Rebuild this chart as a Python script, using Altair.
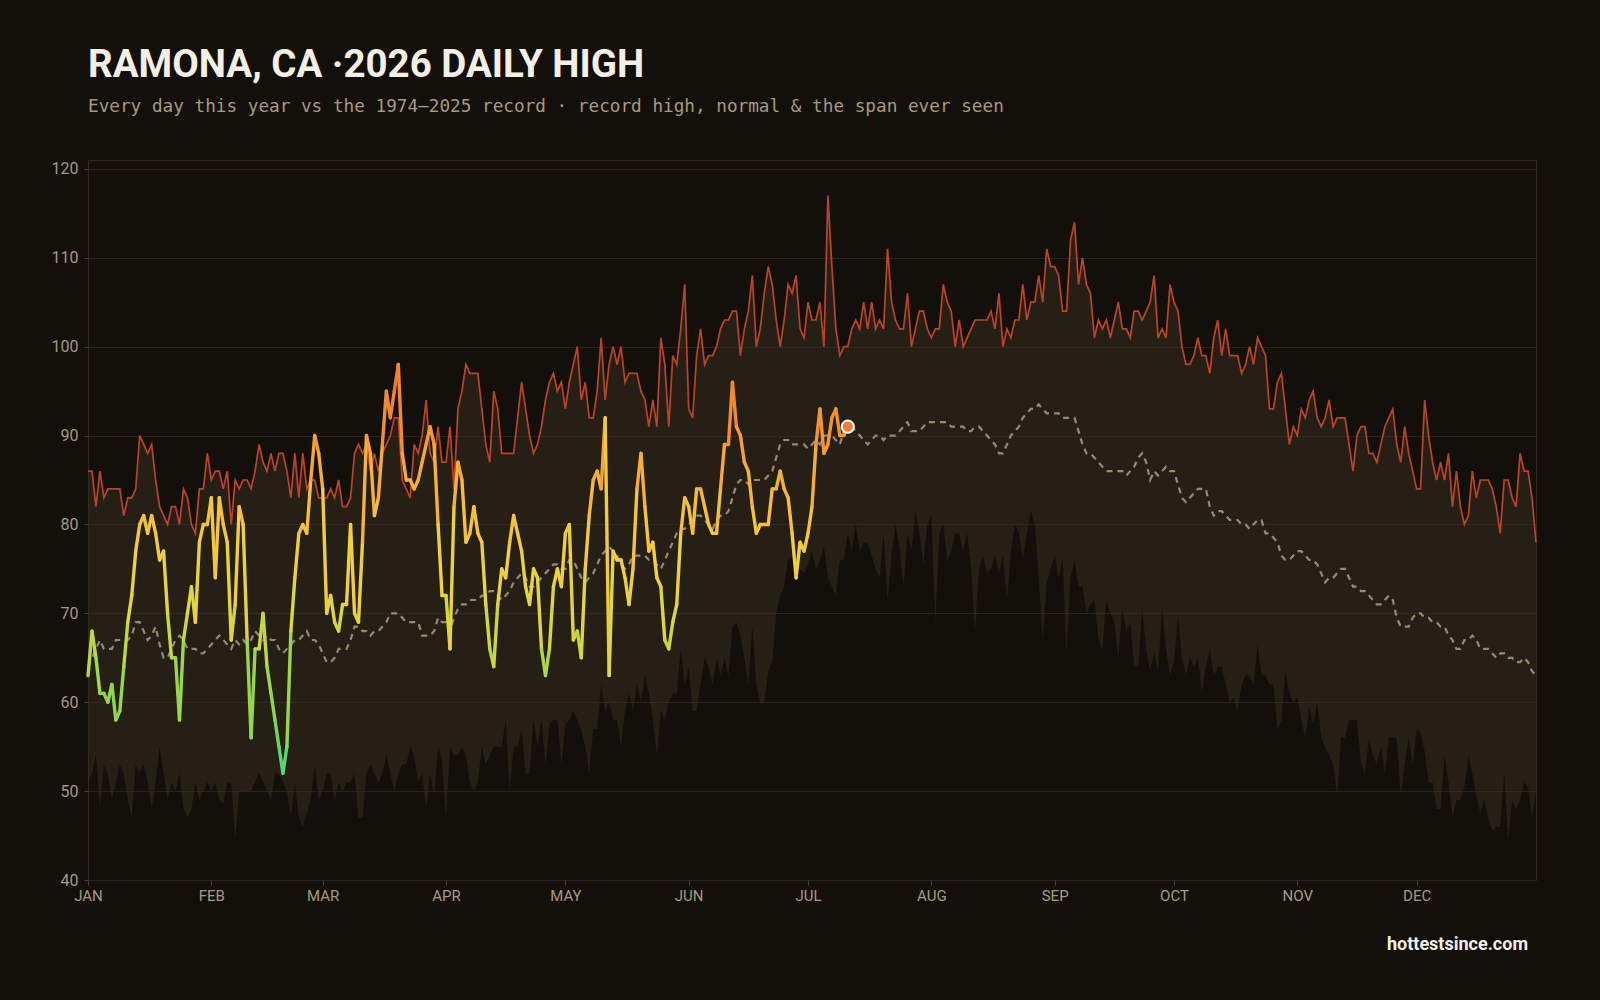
import altair as alt
import pandas as pd

TITLE = "RAMONA, CA ·2026 DAILY HIGH"
SUBTITLE = "Every day this year vs the 1974–2025 record · record high, normal & the span ever seen"
FOOTER = "hottestsince.com"

MONTHS = ["JAN", "FEB", "MAR", "APR", "MAY", "JUN", "JUL", "AUG", "SEP", "OCT", "NOV", "DEC"]
MONTH_STARTS = [0, 31, 59, 90, 120, 151, 181, 212, 243, 273, 304, 334]
Y_TICKS = [40, 50, 60, 70, 80, 90, 100, 110, 120]

# 2026 daily high, Jan 1 .. Jul 11
ACTUAL_2026 = [
    63, 68, 65, 61, 61, 60, 62, 58, 59, 64, 69, 72, 77, 80, 81, 79, 81, 79, 76, 77,
    70, 65, 65, 58, 67, 70, 73, 69, 78, 80, 80, 83, 74, 83, 80, 78, 67, 71, 82, 80,
    67, 56, 66, 66, 70, 64, 61, 58, 55, 52, 55, 68, 74, 79, 80, 79, 85, 90, 88, 84,
    70, 72, 69, 68, 71, 71, 80, 70, 69, 78, 90, 88, 81, 83, 89, 95, 92, 95, 98, 88,
    85, 85, 84, 85, 87, 89, 91, 89, 80, 72, 72, 66, 82, 87, 85, 78, 79, 82, 79, 78,
    71, 66, 64, 71, 75, 74, 78, 81, 79, 77, 73, 71, 75, 74, 66, 63, 66, 73, 75, 73,
    79, 80, 67, 68, 65, 75, 81, 85, 86, 84, 92, 63, 77, 76, 76, 74, 71, 75, 84, 88,
    82, 77, 78, 74, 73, 67, 66, 69, 71, 79, 83, 82, 79, 84, 84, 82, 80, 79, 79, 84,
    89, 89, 96, 91, 90, 87, 86, 82, 79, 80, 80, 80, 84, 84, 86, 84, 83, 79, 74, 78,
    77, 79, 82, 89, 93, 88, 89, 92, 93, 90, 90, 91,
]

RECORD_HIGH = [
    86, 86, 82, 86, 83, 84, 84, 84, 84, 81, 83, 83, 84, 90, 89, 88, 89, 85, 82, 81,
    80, 82, 82, 80, 84, 83, 80, 79, 84, 84, 88, 85, 86, 86, 84, 86, 80, 85, 84, 85,
    85, 84, 86, 89, 87, 86, 88, 86, 88, 88, 86, 83, 88, 83, 88, 84, 85, 85, 83, 83,
    83, 84, 83, 85, 82, 82, 83, 88, 89, 88, 89, 86, 88, 86, 88, 89, 90, 92, 92, 85,
    84, 83, 89, 88, 90, 94, 88, 87, 91, 87, 87, 91, 84, 93, 95, 98, 97, 97, 97, 93,
    89, 87, 95, 93, 88, 88, 88, 88, 92, 96, 93, 90, 88, 89, 91, 94, 96, 97, 95, 96,
    93, 96, 98, 100, 94, 96, 92, 92, 95, 101, 94, 98, 100, 98, 100, 96, 97, 97, 97, 95,
    94, 91, 94, 91, 101, 98, 91, 99, 98, 102, 107, 93, 92, 99, 102, 98, 99, 99, 100, 102,
    103, 103, 104, 104, 99, 102, 104, 108, 100, 102, 106, 109, 107, 103, 100, 103, 107, 106, 108, 102,
    101, 105, 103, 103, 105, 100, 117, 109, 102, 99, 100, 100, 102, 103, 102, 105, 102, 105, 102, 103,
    102, 111, 105, 103, 102, 102, 106, 100, 102, 104, 104, 102, 101, 102, 102, 107, 105, 104, 100, 103,
    100, 101, 102, 103, 103, 103, 103, 104, 102, 106, 100, 102, 101, 103, 103, 107, 103, 105, 105, 108,
    105, 111, 109, 109, 108, 104, 104, 112, 114, 107, 110, 107, 106, 101, 103, 102, 103, 101, 103, 105,
    102, 102, 101, 104, 104, 103, 104, 105, 108, 101, 102, 101, 107, 105, 104, 100, 98, 98, 99, 101,
    99, 99, 97, 101, 103, 99, 102, 99, 99, 99, 97, 98, 100, 98, 101, 100, 99, 93, 93, 96,
    97, 93, 89, 91, 90, 93, 92, 94, 95, 92, 91, 92, 94, 91, 92, 92, 92, 89, 86, 90,
    91, 91, 88, 88, 87, 89, 91, 92, 93, 89, 87, 91, 88, 86, 84, 84, 94, 90, 87, 85,
    87, 85, 88, 82, 86, 82, 80, 81, 86, 83, 85, 85, 85, 84, 82, 79, 85, 85, 83, 82,
    88, 86, 86, 83, 78,
]

NORMAL = [
    64, 65, 66, 67, 66, 66, 66, 67, 67, 67, 67, 67.5, 69, 69, 68, 67, 67.5, 68.5, 66.5, 65,
    65, 66, 67, 67.5, 67, 66, 66, 66, 65.5, 65.5, 66, 66.5, 67, 67.5, 67, 66.5, 66, 67, 66.5, 67,
    66.5, 67, 68, 67.5, 67, 67.5, 67, 67, 66, 65.5, 66, 66.5, 67, 67, 67.5, 68, 67, 67, 66.5, 65.5,
    64.5, 64.5, 65, 66, 66, 66, 67, 68.5, 68.5, 68, 68, 67.5, 68, 68, 68.5, 69, 70, 70, 70, 69.5,
    69, 69, 69, 69, 67.5, 67.5, 67.5, 68, 69.5, 69, 69, 68, 69.5, 70.5, 71, 71, 71.5, 71.5, 71.5, 72,
    72, 72.5, 72.5, 72, 71.5, 72, 72.5, 73.5, 74, 74.5, 74, 73, 73, 73.5, 74, 74.5, 75, 75.5, 75.5, 75,
    75, 76, 76, 75, 74, 73.5, 74, 74.5, 75.5, 76.5, 77, 77.5, 77, 76.5, 75.5, 75, 75.5, 76.5, 76.5, 76.5,
    76.5, 76, 76, 75.5, 75, 76, 77, 78, 79, 79.5, 79.5, 80, 80.5, 81, 81, 80.5, 80, 79.5, 80.5, 81,
    81, 81.5, 83, 84.5, 85, 85, 84.5, 85, 85, 85, 85, 85.5, 86, 87.5, 89, 89.5, 89.5, 89, 89, 89,
    89, 88.5, 89, 89.5, 89, 90, 90, 90, 89.5, 89, 90.5, 91, 91, 90.5, 90, 89.5, 89, 89.5, 90, 90,
    89.5, 90, 90, 90, 90.5, 91, 91.5, 90.5, 90.5, 90.5, 91, 91.5, 91.5, 91.5, 91.5, 91.5, 91.5, 91, 91, 91,
    91, 90.5, 90.5, 91, 91, 90.5, 90, 89.5, 89, 88, 88, 89, 90, 90.5, 91, 92, 92.5, 93, 93, 93.5,
    93, 92.5, 92.5, 92.5, 92.5, 92, 92, 92, 92, 90.5, 89, 88, 88, 87.5, 87, 86.5, 86, 86, 86, 86,
    86, 85.5, 86, 86.5, 87.5, 88, 87, 85, 86, 85.5, 86, 86.5, 86, 86, 84.5, 83, 82.5, 83, 83.5, 84,
    84, 84, 82, 81, 81.5, 81.5, 81, 80.5, 80.5, 80.5, 80, 80, 79.5, 80, 80.5, 80.5, 79, 79, 78.5, 78,
    76.5, 76, 76, 76.5, 77, 77, 76.5, 76, 76, 75.5, 74.5, 73.5, 74, 74, 74.5, 75, 75, 74, 73, 73,
    72.5, 72.5, 72, 71.5, 71, 71, 71.5, 72, 71.5, 69.5, 68.5, 68.5, 68.5, 69.5, 70, 70, 69.5, 69.5, 69, 69,
    68.5, 68.5, 67.5, 67, 66, 66, 67, 67, 67.5, 67, 66, 66, 66, 65.5, 65, 65.5, 65.5, 65, 65, 64.5,
    64.5, 65, 64.5, 63.5, 63,
]

RECORD_LOW = [
    51, 52, 54, 48, 53, 52, 49, 51, 53, 52, 49, 47, 53, 52, 53, 51, 48, 51, 55, 52,
    49, 51, 50, 52, 48, 47, 48, 51, 49, 50, 51, 50, 51, 49, 48.5, 51, 51, 44.5, 50, 50,
    50, 50, 51, 52, 51, 50, 49, 52, 52, 51, 50, 47, 51, 47, 46, 47.5, 49, 53, 49, 50,
    52, 52, 49, 51, 50, 51, 51, 52, 47, 47, 52, 53, 52, 51, 52, 54, 52, 50, 52, 53,
    53, 55, 54, 51, 52, 48, 52, 49.5, 55, 53.5, 47, 55, 54, 54, 55, 54, 51, 50, 51, 55,
    53, 54, 55, 55, 55, 58, 50, 55, 55, 57, 52, 52, 58, 55, 58, 53, 57.5, 58, 58, 53,
    57.5, 58, 59, 58, 57, 55, 52, 57, 57, 62, 59, 60, 58, 58, 55, 59, 61, 59, 62, 60,
    63, 61, 58, 54, 59, 58, 60, 61, 61, 66, 62, 64, 59, 59, 62, 65, 64, 62, 65, 63,
    65, 63, 68.5, 69, 67.5, 65, 62, 68.5, 62, 60, 60, 63.5, 64.5, 70, 72, 73, 76, 76.5, 75, 75,
    74.5, 75.5, 77, 75, 76, 77.5, 74, 73, 72, 76, 76, 79, 77, 80, 77, 78, 78, 76.5, 75, 74,
    79, 71.5, 76.5, 80, 77.5, 73, 79, 77, 81.5, 79, 75.5, 80, 81, 69, 79, 80, 76, 77, 79, 79,
    77, 79, 75, 68, 75, 76.5, 74.5, 75, 76.5, 74.5, 76.5, 71.5, 77, 80, 79, 76, 79, 81.5, 80, 74,
    67, 73.5, 75, 76.5, 74, 76, 65.5, 74, 76, 73, 73, 70, 71, 71.5, 67, 66, 71.5, 70, 69, 65,
    70.5, 68, 69, 64, 64, 70.5, 66, 63.5, 65.5, 63.5, 70.5, 66, 63, 64.5, 69.5, 65, 63, 65, 64, 65,
    61, 64, 66, 63, 64, 64, 62, 60, 60.5, 59, 62, 63, 63, 62, 66.5, 63, 63, 62, 62, 57,
    58, 63.5, 61, 60, 60.5, 58, 56, 59.5, 57.5, 60, 56, 55, 54, 53, 49.5, 56, 56, 58, 58, 58,
    53, 52, 56, 54, 53, 55, 52, 56, 56, 56, 49.5, 53, 56, 53, 57, 56.5, 54.5, 51, 51, 48,
    48, 54, 51, 47, 49, 49, 50.5, 54, 52, 49.5, 47.5, 49, 47, 45.5, 46, 46, 52, 44.5, 49, 48,
    49, 51, 50.5, 47, 50,
]

TEMP_STOPS = [52, 58, 64, 70, 76, 82, 88, 94, 98]
TEMP_COLORS = ["#4fd47a", "#7fd64e", "#a9d843", "#dcd83d", "#f1d03c",
               "#f5bd3a", "#f6a236", "#f3852f", "#f0712a"]

assert len(RECORD_HIGH) == 365, len(RECORD_HIGH)
assert len(NORMAL) == 365, len(NORMAL)
assert len(RECORD_LOW) == 365, len(RECORD_LOW)

# ---------- tables ----------
days = list(range(365))
base = pd.DataFrame({"day": days, "low": RECORD_LOW, "high": RECORD_HIGH, "normal": NORMAL})

n = len(ACTUAL_2026)
seg = pd.DataFrame({
    "d": list(range(n - 1)),
    "d2": list(range(1, n)),
    "t": ACTUAL_2026[:-1],
    "t2": ACTUAL_2026[1:],
})
seg["tm"] = (seg["t"] + seg["t2"]) / 2
last = pd.DataFrame({"d": [n - 1], "t": [ACTUAL_2026[-1]]})
foot = pd.DataFrame({"txt": [FOOTER]})

LABEL_COLOR = "#a8997c"
AXIS_FONT = "Roboto"

month_arr = "[" + ",".join("'%s'" % m for m in MONTHS) + "]"
start_arr = "[" + ",".join(str(v) for v in MONTH_STARTS) + "]"
label_expr = f"{month_arr}[indexof({start_arr}, datum.value)]"

xscale = alt.Scale(domain=[0, 364], nice=False, zero=False)
yscale = alt.Scale(domain=[40, 121], nice=False, zero=False)

x_axis = alt.Axis(values=MONTH_STARTS, labelExpr=label_expr, title=None, grid=False,
                  domain=False, ticks=True, tickSize=5, tickColor="#4a4033",
                  labelColor=LABEL_COLOR, labelFont=AXIS_FONT, labelFontSize=15,
                  labelPadding=3, labelFlush=False)
y_axis = alt.Axis(values=Y_TICKS, title=None, grid=True, gridColor="#2c241b",
                  gridWidth=1, domain=False, ticks=True, tickSize=4,
                  tickColor="#4a4033", labelColor=LABEL_COLOR, labelFont=AXIS_FONT,
                  labelFontSize=16, labelPadding=6)

band = alt.Chart(base).mark_area(color="#3a2e1f", opacity=0.5, interpolate="linear").encode(
    x=alt.X("day:Q", scale=xscale, axis=x_axis),
    y=alt.Y("low:Q", scale=yscale, axis=y_axis),
    y2="high:Q",
)

high_line = alt.Chart(base).mark_line(color="#bb4428", strokeWidth=1.7).encode(
    x=alt.X("day:Q", scale=xscale, axis=x_axis),
    y=alt.Y("high:Q", scale=yscale, axis=y_axis),
)

normal_line = alt.Chart(base).mark_line(color="#958a73", strokeWidth=2.2,
                                        strokeDash=[6, 5]).encode(
    x=alt.X("day:Q", scale=xscale, axis=x_axis),
    y=alt.Y("normal:Q", scale=yscale, axis=y_axis),
)

year_line = alt.Chart(seg).mark_rule(strokeWidth=3.4, strokeCap="round").encode(
    x=alt.X("d:Q", scale=xscale, axis=x_axis),
    x2="d2:Q",
    y=alt.Y("t:Q", scale=yscale, axis=y_axis),
    y2="t2:Q",
    color=alt.Color("tm:Q", scale=alt.Scale(domain=TEMP_STOPS, range=TEMP_COLORS,
                                            interpolate="rgb"), legend=None),
)

dot = alt.Chart(last).mark_circle(size=150, color="#ef7d32", opacity=1,
                                  stroke="#ffffff", strokeWidth=2).encode(
    x=alt.X("d:Q", scale=xscale, axis=x_axis),
    y=alt.Y("t:Q", scale=yscale, axis=y_axis),
)

footer = alt.Chart(foot).mark_text(align="right", baseline="alphabetic", font="Roboto",
                                   fontSize=18, fontWeight="bold", color="#f4efe4").encode(
    x=alt.value(1440), y=alt.value(790), text="txt:N",
)

chart = alt.layer(band, high_line, normal_line, year_line, dot, footer).properties(
    width=1448,
    height=720,
    title=alt.TitleParams(
        text=TITLE, subtitle=SUBTITLE, anchor="start", frame="group",
        font="Roboto", fontSize=38.5, fontWeight="bold", color="#f4efe4",
        subtitleFont="DejaVu Sans Mono", subtitleFontSize=17.7, subtitleColor=LABEL_COLOR,
        subtitlePadding=13, offset=43,
    ),
    autosize=alt.AutoSizeParams(type="none"),
    padding={"left": 88, "top": 160, "right": 64, "bottom": 120},
    background="#13100c",
).configure_view(stroke="#2e281f", strokeWidth=1, fill="#13100c")

chart.save("out.html", embed_options={"renderer": "svg", "actions": False})
